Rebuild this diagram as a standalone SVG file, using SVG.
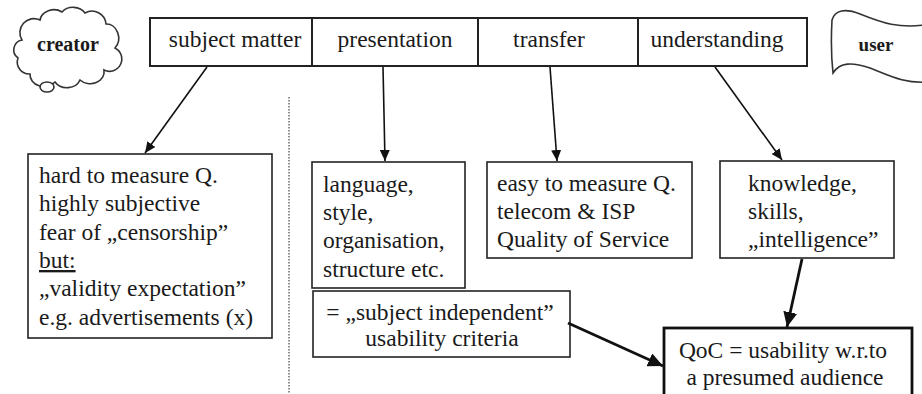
<svg xmlns="http://www.w3.org/2000/svg" width="922" height="394" viewBox="0 0 922 394" font-family="'Liberation Serif', 'Times New Roman', 'DejaVu Serif', serif">
<style>
text{font-family:'Liberation Serif','Times New Roman','DejaVu Serif',serif;font-size:23.5px;fill:#1a1a1a}
.box{fill:#fff;stroke:#222;stroke-width:1.6}
.top{fill:#fff;stroke:#222;stroke-width:2}
.thick{fill:#fff;stroke:#111;stroke-width:2.8}
.mid{text-anchor:middle}
.shape{fill:#fff;stroke:#333;stroke-width:1.6}
.small{font-size:20px;font-weight:bold}
.thin{stroke:#111;stroke-width:1.6;fill:none}
.heavy{stroke:#111;stroke-width:2.8;fill:none}
</style>
<defs>
<marker id="a1" markerUnits="userSpaceOnUse" markerWidth="12" markerHeight="10" refX="11" refY="5" orient="auto"><path d="M0,0 L11,5 L0,10 Z" fill="#111"/></marker>
<marker id="a2" markerUnits="userSpaceOnUse" markerWidth="16" markerHeight="14" refX="15" refY="7" orient="auto"><path d="M0,0 L15,7 L0,14 Z" fill="#111"/></marker>
</defs>
<rect width="922" height="394" fill="#fff"/>

<g id="creator">
<path class="shape" d="M22,40 A14,14 0 0 1 40,20 A14,12 0 0 1 62,12 A14,12 0 0 1 85,13 A14,14 0 0 1 106,24 A12,14 0 0 1 115,48 A12,12 0 0 1 104,70 A14,12 0 0 1 80,80 A14,12 0 0 1 55,82 A14,12 0 0 1 30,74 A12,12 0 0 1 18,58 A10,10 0 0 1 22,40 Z"/>
<ellipse class="shape" cx="47" cy="87" rx="7" ry="5"/>
<text class="small mid" x="68" y="51">creator</text>
</g>

<g id="topbar">
<rect class="top" x="150" y="18" width="162" height="48"/>
<rect class="top" x="312" y="18" width="166" height="48"/>
<rect class="top" x="478" y="18" width="160" height="48"/>
<rect class="top" x="638" y="18" width="169" height="48"/>
<text class="mid" x="235" y="47">subject matter</text>
<text class="mid" x="395" y="47">presentation</text>
<text class="mid" x="549" y="47">transfer</text>
<text class="mid" x="717" y="47">understanding</text>
</g>

<g id="user">
<path class="shape" d="M832,20 C835,10 845,8 860,14 C880,22 900,30 930,24 L930,82 C905,84 890,76 870,68 C852,62 840,62 833,73 C831,55 831,38 832,20 Z"/>
<text class="small mid" x="876" y="51" style="font-size:19px">user</text>
</g>

<g id="sep">
<line x1="289" y1="97" x2="289" y2="394" stroke="#555" stroke-width="1.3" stroke-dasharray="1.5,1.5"/>
</g>

<g id="hard">
<rect class="box" x="28" y="154" width="244" height="184"/>
<text x="39" y="183">hard to measure Q.</text>
<text x="39" y="211">highly subjective</text>
<text x="39" y="240">fear of „censorship”</text>
<text x="39" y="268" style="text-decoration:underline">but:</text>
<text x="39" y="296">„validity expectation”</text>
<text x="39" y="325">e.g. advertisements (x)</text>
</g>

<g id="language">
<rect class="box" x="312" y="162" width="153" height="126"/>
<text x="323" y="192">language,</text>
<text x="323" y="220">style,</text>
<text x="323" y="248">organisation,</text>
<text x="323" y="277">structure etc.</text>
</g>

<g id="easy">
<rect class="box" x="487" y="162" width="205" height="96"/>
<text x="497" y="191">easy to measure Q.</text>
<text x="497" y="219">telecom &amp; ISP</text>
<text x="497" y="247">Quality of Service</text>
</g>

<g id="knowledge">
<rect class="box" x="720" y="161" width="174" height="97"/>
<text x="748" y="191">knowledge,</text>
<text x="748" y="219">skills,</text>
<text x="748" y="247">„intelligence”</text>
</g>

<g id="criteria">
<rect class="box" x="313" y="291" width="257" height="66"/>
<text class="mid" x="440" y="320">= „subject independent”</text>
<text class="mid" x="442" y="346">usability criteria</text>
</g>

<g id="qoc">
<rect class="thick" x="664" y="328" width="248" height="80"/>
<text class="mid" x="783" y="358">QoC = usability w.r.to</text>
<text class="mid" x="785" y="385">a presumed audience</text>
</g>

<g id="connectors">
<line class="thin" x1="207" y1="67" x2="145" y2="153" marker-end="url(#a1)"/>
<line class="thin" x1="383" y1="67" x2="385" y2="161" marker-end="url(#a1)"/>
<line class="thin" x1="550" y1="67" x2="557" y2="161" marker-end="url(#a1)"/>
<line class="thin" x1="715" y1="67" x2="782" y2="160" marker-end="url(#a1)"/>
<line class="heavy" x1="802" y1="259" x2="787" y2="327" marker-end="url(#a2)"/>
<line class="heavy" x1="568" y1="323" x2="663" y2="366" marker-end="url(#a2)"/>
</g>
</svg>
